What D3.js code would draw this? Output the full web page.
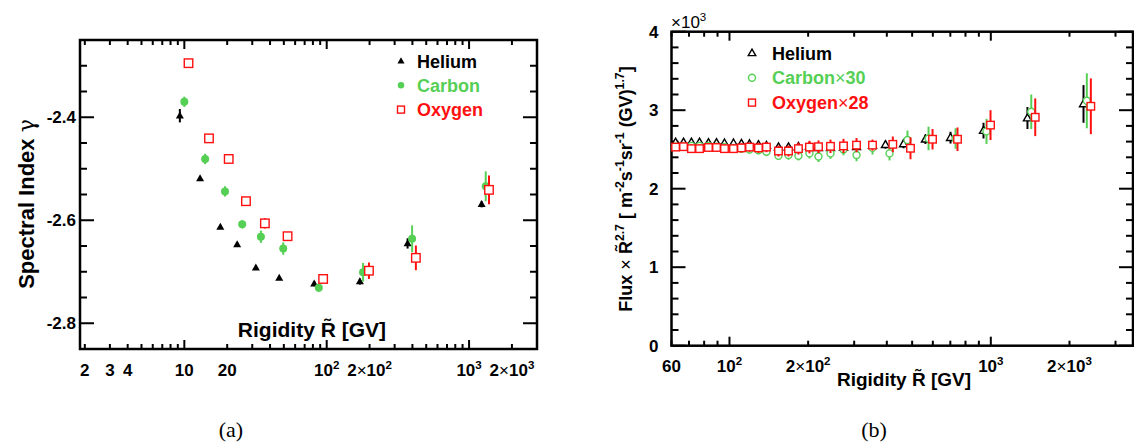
<!DOCTYPE html>
<html>
<head>
<meta charset="utf-8">
<script src="https://cdn.jsdelivr.net/npm/d3@7"></script>
<style>
  body { margin: 0; background: #fff; }
  text { font-family: "Liberation Sans", Arial, sans-serif; font-weight: bold; }
</style>
</head>
<body>
<svg id="chart" width="1134" height="443"></svg>
<script>
// ---- panel (a): spectral index vs rigidity ----
var heR   = [9.3, 12.9, 17.9, 23.5, 31.8, 46.4, 81.7, 171, 370, 1225];
var heG   = [-2.397, -2.519, -2.613, -2.647, -2.692, -2.712, -2.723, -2.719, -2.645, -2.569];
var heGE  = [0.013, 0.004, 0.004, 0.004, 0.004, 0.004, 0.005, 0.006, 0.01, 0.006];
var cR    = [10, 14.0, 19.3, 25.5, 34.5, 49.5, 88, 180, 398, 1309];
var cG    = [-2.370, -2.481, -2.544, -2.608, -2.632, -2.655, -2.731, -2.701, -2.636, -2.534];
var cGE   = [0.01, 0.01, 0.01, 0.008, 0.012, 0.012, 0.008, 0.018, 0.026, 0.029];
var oR    = [10.7, 14.9, 20.5, 27.1, 36.8, 53.1, 94.4, 198, 423, 1380];
var oG    = [-2.295, -2.441, -2.481, -2.563, -2.606, -2.631, -2.714, -2.698, -2.673, -2.541];
var oGE   = [0.008, 0.008, 0.008, 0.004, 0.01, 0.008, 0.004, 0.016, 0.024, 0.028];

var aXTicks  = [2, 3, 4, 10, 20, 100, 200, 1000, 2000];
var aXLabels = ["2", "3", "4", "10", "20", "10^{2}", "2×10^{2}", "10^{3}", "2×10^{3}"];
var aYTicks  = [-2.4, -2.6, -2.8];
var aYLabels = ["-2.4", "-2.6", "-2.8"];

// ---- panel (b): flux x R^2.7 (x10^3) ----
var fheR = [62.2, 66.7, 71.5, 76.8, 83.1, 89.2, 95.7, 103.6, 111.1, 119.3, 129.1, 138.5, 154, 168.2,
            183.6, 202.3, 219.1, 243.5, 273.1, 306.3, 352.6, 395.2, 463.4, 562.1, 701.2, 937.6, 1381, 2263];
var fcR  = [62.2, 66.7, 71.5, 76.8, 83.1, 89.2, 95.7, 103.6, 111.1, 119.3, 129.1, 138.5, 154, 168.2,
            183.6, 202.3, 219.1, 243.5, 273.1, 306.3, 352.6, 409.6, 479.8, 577.7, 732.8, 962.7, 1428, 2330];
var foR  = [62.2, 66.7, 71.5, 76.8, 83.1, 89.2, 95.7, 103.6, 111.1, 119.3, 129.1, 138.5, 154, 168.2,
            183.6, 202.3, 219.1, 243.5, 273.1, 306.3, 352.6, 421.7, 492.8, 598.4, 745.7, 997.5, 1479, 2414];
var fhe  = [2.59, 2.59, 2.59, 2.59, 2.585, 2.585, 2.58, 2.58, 2.575, 2.57, 2.56, 2.55, 2.53, 2.53,
            2.535, 2.54, 2.52, 2.52, 2.525, 2.535, 2.55, 2.56, 2.57, 2.63, 2.65, 2.74, 2.90, 3.08];
var fheE = [0.02, 0.02, 0.02, 0.02, 0.02, 0.02, 0.02, 0.02, 0.02, 0.02, 0.02, 0.02, 0.025, 0.025,
            0.025, 0.03, 0.03, 0.03, 0.035, 0.04, 0.045, 0.05, 0.055, 0.06, 0.075, 0.1, 0.14, 0.24];
var fc   = [2.535, 2.535, 2.545, 2.545, 2.545, 2.535, 2.53, 2.52, 2.51, 2.50, 2.49, 2.47, 2.42, 2.43,
            2.42, 2.45, 2.41, 2.45, 2.50, 2.43, 2.52, 2.45, 2.62, 2.64, 2.64, 2.73, 2.98, 3.12];
var fcE  = [0.04, 0.04, 0.04, 0.04, 0.04, 0.04, 0.045, 0.045, 0.05, 0.05, 0.05, 0.055, 0.055, 0.06,
            0.06, 0.065, 0.07, 0.07, 0.075, 0.08, 0.085, 0.09, 0.12, 0.15, 0.13, 0.16, 0.22, 0.35];
var fo   = [2.53, 2.535, 2.51, 2.51, 2.525, 2.525, 2.51, 2.51, 2.52, 2.53, 2.52, 2.53, 2.48, 2.48,
            2.51, 2.53, 2.535, 2.54, 2.545, 2.555, 2.555, 2.565, 2.515, 2.63, 2.63, 2.81, 2.91, 3.05];
var foE  = [0.05, 0.05, 0.05, 0.05, 0.05, 0.05, 0.055, 0.055, 0.06, 0.06, 0.065, 0.065, 0.07, 0.07,
            0.075, 0.08, 0.08, 0.085, 0.09, 0.09, 0.07, 0.1, 0.14, 0.13, 0.15, 0.19, 0.24, 0.355];

var bXTicks  = [60, 100, 200, 1000, 2000];
var bXLabels = ["60", "10^{2}", "2×10^{2}", "10^{3}", "2×10^{3}"];
var bYTicks  = [0, 1, 2, 3, 4];
var bYLabels = ["0", "1", "2", "3", "4"];

var GREEN = "#55d055", RED = "#ff1010";

var svg = d3.select("#chart");
svg.append("rect").attr("width", 1134).attr("height", 443).attr("fill", "#fff");

// text with ^{..} superscripts; the times sign drawn thin
function richText(t, str, size) {
  var up = false;
  str.split(/(\^\{[^}]*\})/).forEach(function(p) {
    if (!p) return;
    if (p[0] === "^") {
      t.append("tspan").attr("dy", -size * 0.42).attr("font-size", size * 0.68).text(p.slice(2, -1));
      up = true;
      return;
    }
    p.split(/(×)/).forEach(function(q) {
      if (!q) return;
      var s = t.append("tspan").text(q);
      if (up) { s.attr("dy", size * 0.42); up = false; }
      if (q === "×") s.style("font-weight", "normal");
    });
  });
  return t;
}

function frame(g, x, y, o) {
  var x0 = x.range()[0], x1 = x.range()[1], y0 = y.range()[0], y1 = y.range()[1];
  var isMajorX = function(v) { var l = Math.log10(v); return Math.abs(l - Math.round(l)) < 1e-6; };
  x.ticks().forEach(function(v) {
    var len = isMajorX(v) ? o.xMajor : o.xMinor, px = x(v);
    g.append("line").attr("x1", px).attr("x2", px).attr("y1", y0).attr("y2", y0 - len);
    g.append("line").attr("x1", px).attr("x2", px).attr("y1", y1).attr("y2", y1 + len);
  });
  y.ticks(o.yMinorCount).forEach(function(v) {
    var major = o.yMajors.some(function(m) { return Math.abs(m - v) < 1e-6; });
    var len = major ? o.yMajor : o.yMinor, py = y(v);
    g.append("line").attr("x1", x0).attr("x2", x0 + len).attr("y1", py).attr("y2", py);
    g.append("line").attr("x1", x1).attr("x2", x1 - len).attr("y1", py).attr("y2", py);
  });
  g.selectAll("line").attr("stroke", "#000").attr("stroke-width", 2);
  g.append("rect").attr("x", x0).attr("y", y1).attr("width", x1 - x0).attr("height", y0 - y1)
    .attr("fill", "none").attr("stroke", "#000").attr("stroke-width", 2.5);

  o.xTicks.forEach(function(v, i) {
    richText(g.append("text").attr("x", x(v)).attr("y", o.xLabelY).attr("text-anchor", "middle")
      .attr("font-size", o.tickSize), o.xLabels[i], o.tickSize);
  });
  o.yMajors.forEach(function(v, i) {
    g.append("text").attr("x", x0 - o.yLabelGap).attr("y", y(v) + o.tickSize * 0.36)
      .attr("text-anchor", "end").attr("font-size", o.tickSize).text(o.yLabels[i]);
  });
}

function series(g, x, y, R, V, E, color, sym) {
  var pts = R.map(function(r, i) { return { r: r, v: V[i], e: E[i] }; });
  g.selectAll(null).data(pts).enter().append("line")
    .attr("x1", function(d) { return x(d.r); }).attr("x2", function(d) { return x(d.r); })
    .attr("y1", function(d) { return y(d.v - d.e); }).attr("y2", function(d) { return y(d.v + d.e); })
    .attr("stroke", color).attr("stroke-width", 2);
  pts.forEach(function(d) { sym(g, x(d.r), y(d.v)); });
}

function marker(kind, color, size, filled) {
  return function(g, cx, cy) {
    var el;
    if (kind === "square") {
      el = g.append("rect").attr("x", cx - size / 2).attr("y", cy - size / 2).attr("width", size).attr("height", size);
    } else if (kind === "circle") {
      el = g.append("circle").attr("cx", cx).attr("cy", cy).attr("r", size / 2);
    } else {
      var h = size * 0.87;
      el = g.append("path").attr("d", "M" + cx + "," + (cy - h * 0.6) + "L" + (cx + size / 2) + "," + (cy + h * 0.4) +
        "L" + (cx - size / 2) + "," + (cy + h * 0.4) + "Z");
    }
    if (filled) el.attr("fill", color).attr("stroke", "none");
    else el.attr("fill", "#fff").attr("stroke", color).attr("stroke-width", 1.4);
  };
}

// ================= panel (a) =================
var ga = svg.append("g");
var xa = d3.scaleLog().domain([1.85, 3000]).range([80, 537]);
var ya = d3.scaleLinear().domain([-2.85, -2.25]).range([349, 40]);

frame(ga.append("g"), xa, ya, {
  xMajor: 9, xMinor: 5, yMajor: 14, yMinor: 7, yMinorCount: 12, yMajors: aYTicks,
  xTicks: aXTicks, xLabels: aXLabels, yLabels: aYLabels, xLabelY: 376, yLabelGap: 4, tickSize: 17
});

var heA = marker("triangle", "#000", 8, true),
    cA  = marker("circle", GREEN, 8, true),
    oA  = marker("square", RED, 8.5, false);
series(ga, xa, ya, heR, heG, heGE, "#000", heA);
series(ga, xa, ya, cR, cG, cGE, GREEN, cA);
series(ga, xa, ya, oR, oG, oGE, RED, oA);

ga.append("text").attr("x", 386).attr("y", 337).attr("text-anchor", "end").attr("font-size", 21)
  .text("Rigidity R\u0303 [GV]");
ga.append("text").attr("transform", "translate(34,204) rotate(-90)").attr("text-anchor", "middle")
  .attr("font-size", 22).text("Spectral Index ")
  .append("tspan").style("font-weight", "normal").style("font-family", "DejaVu Serif").text("γ");

var legA = [["Helium", "#000", marker("triangle", "#000", 7, true)],
            ["Carbon", GREEN, marker("circle", GREEN, 6.5, true)],
            ["Oxygen", RED, marker("square", RED, 7, false)]];
legA.forEach(function(d, i) {
  var cy = 61 + i * 24.3;
  d[2](ga, 401, cy);
  ga.append("text").attr("x", 417).attr("y", cy + 6.5).attr("font-size", 18).attr("fill", d[1]).text(d[0]);
});

// ================= panel (b) =================
var gb = svg.append("g");
var xb = d3.scaleLog().domain([60, 3500]).range([671.5, 1133]);
var yb = d3.scaleLinear().domain([0, 4]).range([345.7, 31.7]);

frame(gb.append("g"), xb, yb, {
  xMajor: 9, xMinor: 5, yMajor: 14, yMinor: 7, yMinorCount: 20, yMajors: bYTicks,
  xTicks: bXTicks, xLabels: bXLabels, yLabels: bYLabels, xLabelY: 372, yLabelGap: 13, tickSize: 17
});

series(gb, xb, yb, fheR, fhe, fheE, "#000", marker("triangle", "#000", 8, false));
series(gb, xb, yb, fcR, fc, fcE, GREEN, marker("circle", GREEN, 7, false));
series(gb, xb, yb, foR, fo, foE, RED, marker("square", RED, 7.5, false));

richText(gb.append("text").attr("x", 671).attr("y", 28).attr("font-size", 17).style("font-weight", "normal"),
  "×10^{3}", 17);

gb.append("text").attr("x", 971).attr("y", 386).attr("text-anchor", "end").attr("font-size", 19)
  .text("Rigidity R\u0303 [GV]");
richText(gb.append("text").attr("transform", "translate(632,189) rotate(-90)").attr("text-anchor", "middle")
  .attr("font-size", 18), "Flux × R\u0303^{2.7} [ m^{-2}s^{-1}sr^{-1} (GV)^{1.7}]", 18);

var legB = [["Helium", "#000", marker("triangle", "#000", 7.5, false)],
            ["Carbon×30", GREEN, marker("circle", GREEN, 7, false)],
            ["Oxygen×28", RED, marker("square", RED, 7, false)]];
legB.forEach(function(d, i) {
  var cy = 53 + i * 24.8;
  d[2](gb, 752, cy);
  richText(gb.append("text").attr("x", 772).attr("y", cy + 6.5).attr("font-size", 18).attr("fill", d[1]), d[0], 18);
});

// captions
[["(a)", 231], ["(b)", 874]].forEach(function(d) {
  svg.append("text").attr("x", d[1]).attr("y", 437).attr("text-anchor", "middle")
    .style("font-family", "Liberation Serif").style("font-weight", "normal").attr("font-size", 22).text(d[0]);
});
</script>
</body>
</html>
